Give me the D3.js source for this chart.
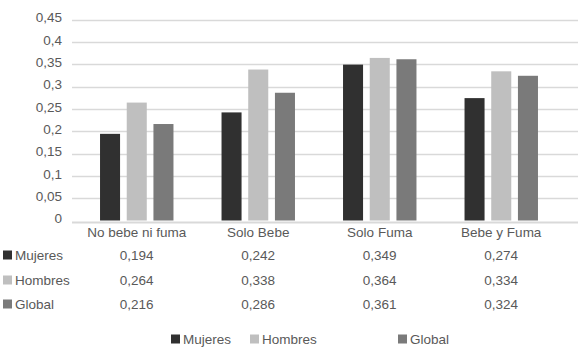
<!DOCTYPE html>
<html>
<head>
<meta charset="utf-8">
<script src="https://cdn.jsdelivr.net/npm/d3@7"></script>
<style>
  body { margin: 0; background: #fff; }
  text { font-family: "Liberation Sans", "DejaVu Sans", sans-serif; font-size: 13.5px; fill: #595959; }
</style>
</head>
<body>
<div id="chart"></div>
<script>
var categories = ["No bebe ni fuma", "Solo Bebe", "Solo Fuma", "Bebe y Fuma"];
var seriesNames = ["Mujeres", "Hombres", "Global"];
var mujeres = [0.194, 0.242, 0.349, 0.274];
var hombres = [0.264, 0.338, 0.364, 0.334];
var globalVals = [0.216, 0.286, 0.361, 0.324];
var tableLabels = [
  ["0,194", "0,242", "0,349", "0,274"],
  ["0,264", "0,338", "0,364", "0,334"],
  ["0,216", "0,286", "0,361", "0,324"]
];
var yTicks = [0, 0.05, 0.1, 0.15, 0.2, 0.25, 0.3, 0.35, 0.4, 0.45];
var colors = ["#303030", "#bfbfbf", "#7a7a7a"];

var width = 586, height = 353;
var series = [mujeres, hombres, globalVals];

var svg = d3.select("#chart")
  .append("svg")
    .attr("width", width)
    .attr("height", height);

var y = d3.scaleLinear().domain([0, 0.45]).range([220.5, 19.5]);
var x0 = d3.scaleBand().domain(categories).range([76, 562]);
var x1 = d3.scaleBand().domain(seriesNames).range([0, x0.bandwidth()])
  .paddingInner(0.25).paddingOuter(0.9);

// gridlines
svg.append("g")
  .selectAll("line")
  .data(yTicks.slice(1))
  .enter().append("line")
    .attr("x1", 72).attr("x2", 578)
    .attr("y1", d => Math.round(y(d)) + 0.5)
    .attr("y2", d => Math.round(y(d)) + 0.5)
    .attr("stroke", "#d9d9d9")
    .attr("stroke-width", 1.5);

// y tick labels
svg.append("g")
  .selectAll("text")
  .data(yTicks)
  .enter().append("text")
    .attr("x", 62)
    .attr("y", d => y(d) - 2)
    .attr("text-anchor", "end")
    .attr("dy", "0.35em")
    .text(d => d3.format(".2~f")(d).replace(".", ","));

// bars
var groups = svg.append("g")
  .selectAll("g")
  .data(categories)
  .enter().append("g")
    .attr("transform", d => "translate(" + x0(d) + ",0)");

groups.selectAll("rect")
  .data((d, i) => series.map((s, j) => ({ name: seriesNames[j], value: s[i], k: j })))
  .enter().append("rect")
    .attr("x", d => x1(d.name))
    .attr("width", x1.bandwidth())
    .attr("y", d => y(d.value))
    .attr("height", d => y(0) - y(d.value))
    .attr("fill", d => colors[d.k]);

// axis / table top line
svg.append("line")
  .attr("x1", 72).attr("x2", 578)
  .attr("y1", 222.5).attr("y2", 222.5)
  .attr("stroke", "#d9d9d9")
  .attr("stroke-width", 2);

// category labels
svg.append("g")
  .selectAll("text")
  .data(categories)
  .enter().append("text")
    .attr("x", d => x0(d) + x0.bandwidth() / 2)
    .attr("y", 232)
    .attr("dy", "0.35em")
    .attr("text-anchor", "middle")
    .text(d => d);

// data table rows
var rowY = [255, 280, 304];
var rows = svg.append("g")
  .selectAll("g")
  .data(seriesNames)
  .enter().append("g");

rows.append("rect")
  .attr("x", 3).attr("y", (d, i) => rowY[i] - 4.5)
  .attr("width", 9).attr("height", 9)
  .attr("fill", (d, i) => colors[i]);

rows.append("text")
  .attr("x", 15).attr("y", (d, i) => rowY[i])
  .attr("dy", "0.35em")
  .text(d => d);

rows.selectAll("text.val")
  .data((d, i) => tableLabels[i].map((v, j) => ({ v: v, cat: categories[j], row: i })))
  .enter().append("text")
    .attr("class", "val")
    .attr("x", d => x0(d.cat) + x0.bandwidth() / 2)
    .attr("y", d => rowY[d.row])
    .attr("dy", "0.35em")
    .attr("text-anchor", "middle")
    .text(d => d.v);

// legend
var legendX = [171, 250, 398];
var legend = svg.append("g")
  .selectAll("g")
  .data(seriesNames)
  .enter().append("g")
    .attr("transform", (d, i) => "translate(" + legendX[i] + ",339)");

legend.append("rect")
  .attr("x", 0).attr("y", -4.5)
  .attr("width", 9).attr("height", 9)
  .attr("fill", (d, i) => colors[i]);

legend.append("text")
  .attr("x", 12)
  .attr("dy", "0.35em")
  .text(d => d);
</script>
</body>
</html>
